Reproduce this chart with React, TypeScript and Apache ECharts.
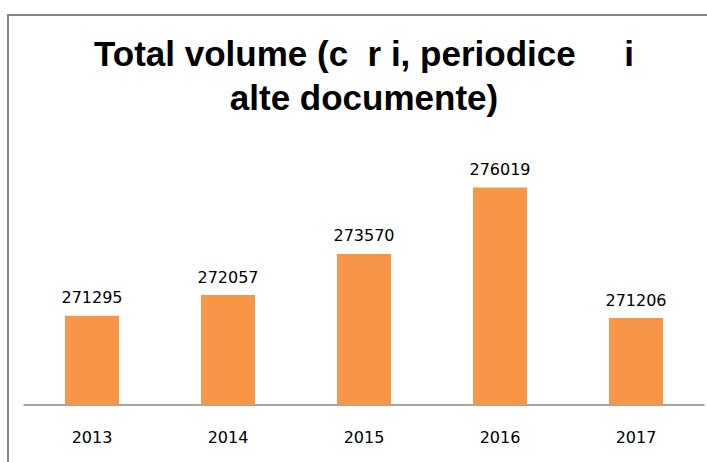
import React, { useEffect, useRef } from "react";
import * as echarts from "echarts";

const categories = ["2013", "2014", "2015", "2016", "2017"];
const values = [271295, 272057, 273570, 276019, 271206];
const titleText = "Total volume (c  r i, periodice     i\nalte documente)";

export default function App() {
  const ref = useRef<HTMLDivElement>(null);
  useEffect(() => {
    document.body.style.margin = "0";
    const chart = echarts.init(ref.current!, null, { renderer: "svg" });
    chart.setOption({
      animation: false,
      backgroundColor: "#ffffff",
      title: {
        text: titleText,
        left: 364,
        top: 31,
        padding: 0,
        textAlign: "center",
        textStyle: {
          fontFamily: "Liberation Sans",
          fontWeight: "bold",
          fontSize: 35,
          lineHeight: 44,
          color: "#000000",
        },
      },
      graphic: [
        {
          type: "rect",
          shape: { x: 8, y: 15, width: 800, height: 600 },
          style: { fill: "none", stroke: "#868686", lineWidth: 2 },
          silent: true,
        },
      ],
      grid: { left: 24, right: 3, top: 161, bottom: 57, containLabel: false },
      xAxis: {
        type: "category",
        data: categories,
        axisLine: { show: true, lineStyle: { color: "#868686", width: 1.5 } },
        axisTick: { show: false },
        axisLabel: {
          margin: 24,
          fontFamily: "DejaVu Sans",
          fontSize: 16,
          color: "#000000",
        },
      },
      yAxis: {
        type: "value",
        min: 268000,
        max: 277000,
        interval: 1000,
        show: false,
        splitLine: { show: false },
      },
      series: [
        {
          type: "bar",
          data: values,
          barWidth: 54,
          itemStyle: { color: "#F79646" },
          label: {
            show: true,
            position: "top",
            distance: 10,
            fontFamily: "DejaVu Sans",
            fontSize: 16,
            color: "#000000",
          },
        },
      ],
    });
    return () => chart.dispose();
  }, []);
  return <div ref={ref} style={{ width: 707, height: 462 }} />;
}
